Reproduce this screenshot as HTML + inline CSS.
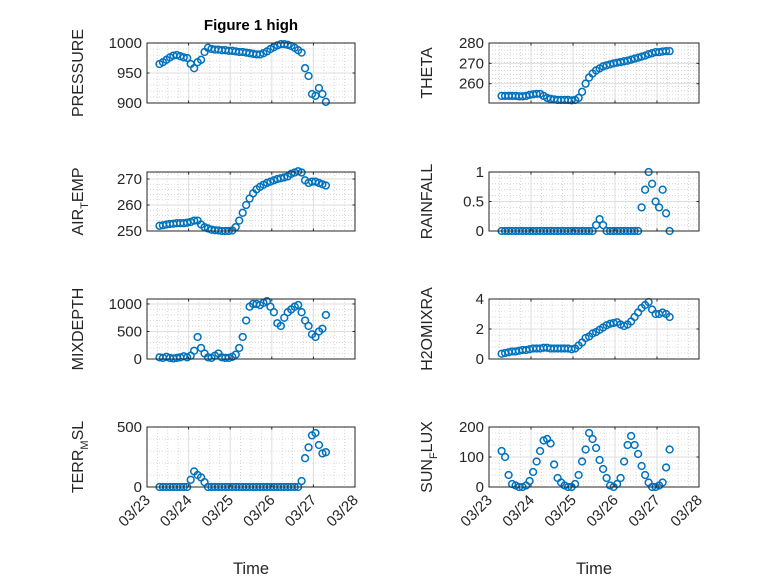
<!DOCTYPE html>
<html><head><meta charset="utf-8"><style>
body{margin:0;background:#fff;}
svg{display:block;font-family:"Liberation Sans","DejaVu Sans",sans-serif;}
</style></head><body>
<svg id="fig" width="778" height="583" viewBox="0 0 778 583" xmlns="http://www.w3.org/2000/svg">
<rect width="778" height="583" fill="#fff"/>
<text x="251" y="30" text-anchor="middle" font-size="15" font-weight="bold" fill="#000">Figure 1 high</text>
</svg>
<script>
const dayLabels = ["03/23","03/24","03/25","03/26","03/27","03/28"];
const tStart = 0.3, tStep = 1/12;
const pressure = [965,968,972,976,979,980,978,976,975,965,958,968,972,985,992,990,989,989,988,988,987,987,986,985,985,984,983,982,981,981,983,986,990,993,996,998,998,997,995,992,988,984,958,945,915,912,925,915,902];
const theta = [254,254,254,254,254,253.8,253.8,254,254.5,254.8,255,255,254,253,252.5,252.3,252,252,252,252,251.8,252,253,256,260,263,265,266.5,267.5,268.5,269,269.5,270,270.3,270.6,271,271.3,271.8,272.3,272.8,273.3,273.8,274.5,275,275.5,275.5,275.8,276,276];
const airTemp = [252,252.2,252.5,252.7,252.8,253,253,253,253.2,253.5,254,254,252.5,251.5,251,250.5,250.3,250.2,250,250,250,250.2,251.5,254,257,260,262.5,264.5,266,267,267.8,268.5,269,269.5,270,270.3,270.6,271,272,272.5,273,272.5,269.5,268.5,269,269,268.5,268,267.5];
const rainfall = [0,0,0,0,0,0,0,0,0,0,0,0,0,0,0,0,0,0,0,0,0,0,0,0,0,0,0,0.1,0.2,0.1,0,0,0,0,0,0,0,0,0,0,0.4,0.7,1.0,0.8,0.5,0.4,0.7,0.3,0];
const mixDepth = [30,20,40,20,10,20,30,50,30,60,150,400,200,100,30,20,60,100,30,20,20,40,80,200,400,700,950,1000,1000,980,1020,1050,950,850,650,600,750,850,900,950,980,850,700,600,450,400,500,550,800];
const h2o = [0.35,0.4,0.45,0.5,0.5,0.55,0.6,0.6,0.65,0.7,0.7,0.7,0.75,0.75,0.7,0.7,0.7,0.7,0.7,0.7,0.65,0.7,0.9,1.1,1.4,1.5,1.7,1.8,1.95,2.1,2.25,2.35,2.4,2.45,2.3,2.2,2.3,2.5,2.8,3.1,3.4,3.6,3.8,3.3,3.0,3.0,3.1,3.0,2.8];
const terr = [0,0,0,0,0,0,0,0,0,60,130,100,80,40,0,0,0,0,0,0,0,0,0,0,0,0,0,0,0,0,0,0,0,0,0,0,0,0,0,0,0,50,240,330,430,450,350,280,290];
const sunFlux = [120,100,40,10,5,0,0,5,20,50,85,120,155,160,145,75,30,15,5,0,0,10,40,85,125,180,160,130,90,60,30,5,0,10,30,85,140,170,140,110,70,40,15,0,0,5,15,65,125];

const pressureTicks=[900,950,1000], thetaTicks=[260,270,280], airTicks=[250,260,270], rainTicks=[0,0.5,1];
const mixTicks=[0,500,1000], h2oTicks=[0,2,4], terrTicks=[0,500], sunTicks=[0,100,200];

const NS="http://www.w3.org/2000/svg";
const svg=document.getElementById('fig');
function mk(tag,attrs,parent){const e=document.createElementNS(NS,tag);for(const k in attrs)e.setAttribute(k,attrs[k]);(parent||svg).appendChild(e);return e;}

const colX=[{x0:147,w:208},{x0:489,w:210}];
const rowY=[{y0:43,h:60},{y0:172,h:59},{y0:299,h:60},{y0:427,h:60}];
const panels=[
 {name:"pressure",data:pressure,ticks:pressureTicks,ylim:[900,1000],col:0,row:0,label:["PRESSURE"]},
 {name:"theta",data:theta,ticks:thetaTicks,ylim:[250.5,280],col:1,row:0,label:["THETA"]},
 {name:"air-temp",data:airTemp,ticks:airTicks,ylim:[250,272.7],col:0,row:1,label:["AIR","T","EMP"]},
 {name:"rainfall",data:rainfall,ticks:rainTicks,ylim:[0,1],col:1,row:1,label:["RAINFALL"]},
 {name:"mixdepth",data:mixDepth,ticks:mixTicks,ylim:[0,1090],col:0,row:2,label:["MIXDEPTH"]},
 {name:"h2omixra",data:h2o,ticks:h2oTicks,ylim:[0,4],col:1,row:2,label:["H2OMIXRA"]},
 {name:"terr-msl",data:terr,ticks:terrTicks,ylim:[0,500],col:0,row:3,label:["TERR","M","SL"]},
 {name:"sun-flux",data:sunFlux,ticks:sunTicks,ylim:[0,200],col:1,row:3,label:["SUN","F","LUX"]}
];

panels.forEach(p=>{
 const c=colX[p.col], r=rowY[p.row];
 const xs=d=>c.x0+d/5*c.w;
 const ys=v=>r.y0+r.h-(v-p.ylim[0])/(p.ylim[1]-p.ylim[0])*r.h;
 const g=mk('g',{});
 
 
 mk('rect',{x:c.x0,y:r.y0,width:c.w,height:r.h,fill:'#fff'},g);
 for(let d=0;d<5;d++)for(let m=1;m<4;m++){const x=xs(d+m/4);mk('line',{x1:x,x2:x,y1:r.y0,y2:r.y0+r.h,stroke:'#bdbdbd','stroke-width':0.6,'stroke-dasharray':'1 2'},g);}
 const st=p.ticks.length>1?p.ticks[1]-p.ticks[0]:p.ylim[1];
 for(let v=p.ylim[0]-st;v<=p.ylim[1]+st;v+=st/5){const y=ys(v);if(y>r.y0+0.5&&y<r.y0+r.h-0.5)mk('line',{x1:c.x0,x2:c.x0+c.w,y1:y,y2:y,stroke:'#bdbdbd','stroke-width':0.6,'stroke-dasharray':'1 2'},g);}
 for(let d=1;d<5;d++){const x=xs(d);mk('line',{x1:x,x2:x,y1:r.y0,y2:r.y0+r.h,stroke:'#dedede','stroke-width':1},g);}
 p.ticks.forEach(v=>{const y=ys(v);mk('line',{x1:c.x0,x2:c.x0+c.w,y1:y,y2:y,stroke:'#dedede','stroke-width':1},g);});
 p.data.forEach((v,i)=>{
  const m=mk('circle',{cx:xs(tStart+i*tStep),cy:ys(v),r:3.4,fill:'none',stroke:'#0072BD','stroke-width':1.5},g);
  
  
 });
 mk('rect',{x:c.x0,y:r.y0,width:c.w,height:r.h,fill:'none',stroke:'#262626','stroke-width':1},g);
 for(let d=0;d<=5;d++){const x=xs(d);mk('line',{x1:x,x2:x,y1:r.y0+r.h,y2:r.y0+r.h-2.5,stroke:'#262626'},g);mk('line',{x1:x,x2:x,y1:r.y0,y2:r.y0+2.5,stroke:'#262626'},g);}
 p.ticks.forEach(v=>{const y=ys(v);
  mk('line',{x1:c.x0,x2:c.x0+2.5,y1:y,y2:y,stroke:'#262626'},g);
  mk('line',{x1:c.x0+c.w,x2:c.x0+c.w-2.5,y1:y,y2:y,stroke:'#262626'},g);
  const t=mk('text',{x:c.x0-5,y:y+5,'text-anchor':'end','font-size':15,fill:'#262626'},g);
  t.textContent=String(v);
  
  
 });
 const lx=c.x0-(p.col===0?64:57), ly=r.y0+r.h/2;
 const yl=mk('text',{x:lx,y:ly,'text-anchor':'middle','font-size':16,fill:'#262626',transform:`rotate(-90 ${lx} ${ly})`},g);
 
 
 if(p.label.length===1){yl.textContent=p.label[0];}
 else{const a=mk('tspan',{},yl);a.textContent=p.label[0];const b=mk('tspan',{'font-size':11,dy:5},yl);b.textContent=p.label[1];const cc=mk('tspan',{dy:-5},yl);cc.textContent=p.label[2];}
 if(p.row===3){
  dayLabels.forEach((s,d)=>{const x=xs(d),y=r.y0+r.h+8;
   const t=mk('text',{x:x+4,y:y+6,'text-anchor':'end','font-size':15,fill:'#262626',transform:`rotate(-45 ${x+4} ${y+6})`},g);
   t.textContent=s;
   
   
  });
  const xl=mk('text',{x:c.x0+c.w/2,y:574,'text-anchor':'middle','font-size':16.5,fill:'#262626'},g);
  xl.textContent='Time';
  
  
 }
});
</script>
</body></html>
